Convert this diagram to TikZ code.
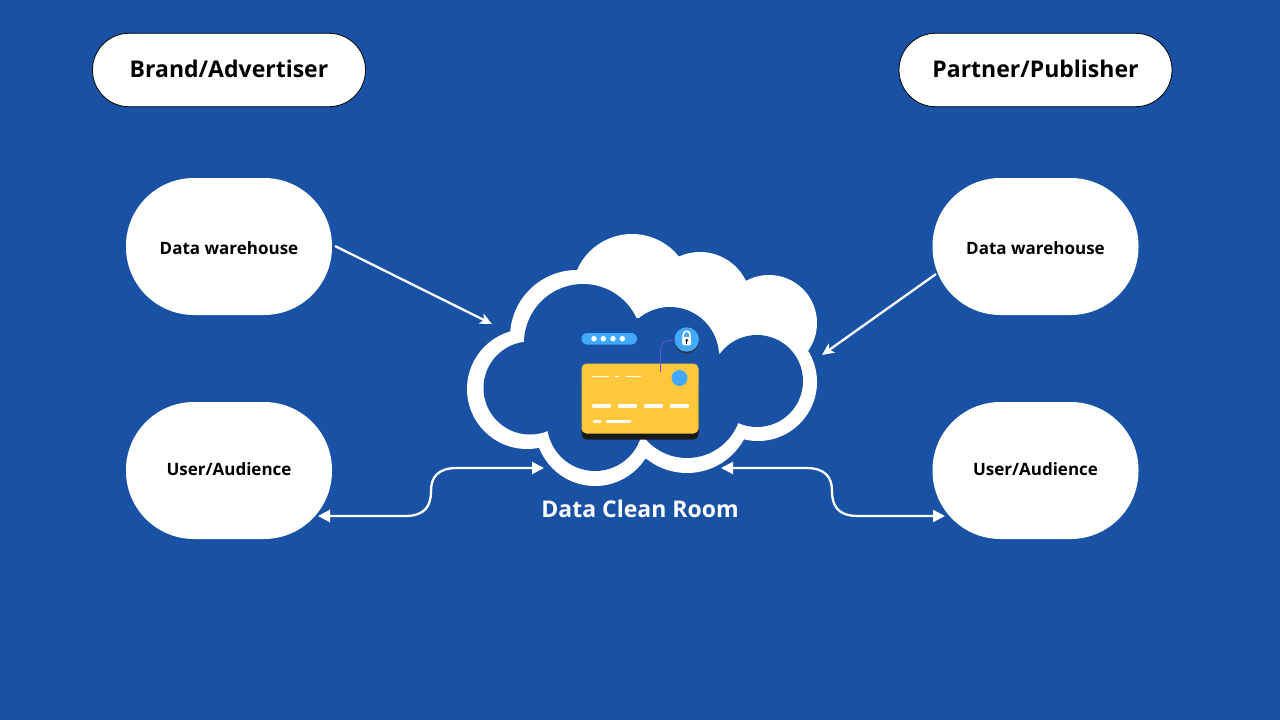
\documentclass[tikz,border=0pt]{standalone}
\usepackage{fontspec}
\setmainfont{Open Sans}
\usetikzlibrary{arrows.meta}
\definecolor{bgblue}{HTML}{1952A4}
\definecolor{cardyellow}{HTML}{FFC73C}
\definecolor{skyblue}{HTML}{42A9FF}
\definecolor{shadowdark}{HTML}{2F3640}
\definecolor{wirepurple}{HTML}{6A52C8}
\tikzset{headpill/.style={draw=black, fill=white, line width=0.8pt, rounded corners=36.5pt, minimum width=273pt, minimum height=73.4pt, text height=15.4pt, text depth=0pt, font=\fontsize{23}{28}\selectfont\bfseries},
%the four white blobs
blob/.style={fill=white, rounded corners=68pt, minimum width=206pt, minimum height=137pt, text height=#1, text depth=0pt, font=\fontsize{17}{20}\selectfont\bfseries},
flow/.style={draw=white, line width=2.3pt, -{Stealth[length=12pt,width=11pt,inset=3pt]}},
twoway/.style={draw=white, line width=2.3pt, {Triangle[length=12pt,width=12pt]}-{Triangle[length=12pt,width=12pt]}}}

\begin{document}
\begin{tikzpicture}[x=1pt, y=-1pt]

\useasboundingbox (0,0) rectangle (1280,720);
\fill[bgblue] (0,0) rectangle (1280,720);

\node[headpill] (brand) at (229,70) {Brand/Advertiser};
\node[headpill] (partner) at (1035.5,70) {Partner/Publisher};

\node[blob=16.5pt] (wareL) at (229,246.5) {Data warehouse};
\node[blob=16.5pt] (wareR) at (1035.5,246.5) {Data warehouse};
\node[blob=10pt] (userL) at (229,470.5) {User/Audience};
\node[blob=10pt] (userR) at (1035.5,470.5) {User/Audience};

% cloud, white lobes first
\fill[white] (577,270) -- (678,257) -- (744,282) -- (808,349) -- (743,437) -- (646,459) -- (540,448) -- (510,332) -- cycle;
\foreach \x/\y/\r in {632/294/60, 700/303/51, 769/323/48, 758/382/59, 687/408/65, 595/426/60, 527/389/60, 577/337/67}
    \fill[white] (\x,\y) circle (\r pt);

% then the hole
\fill[bgblue] (523,343) -- (638,318) -- (719,352) -- (737,423) -- (642,439) -- (548,431) -- cycle;
\foreach \x/\y/\r in {583/343/59, 670/356/49, 757/381/46, 687/403/55, 595/423/48, 530/388/46.5}
    \fill[bgblue] (\x,\y) circle (\r pt);

\node[text=white, font=\fontsize{23}{27}\selectfont\bfseries] (roomlabel) at (640,508.5) {Data Clean Room};

% card
\fill[black!90, rounded corners=5pt] (581.5,380) rectangle (698.5,439.5);
\fill[cardyellow, rounded corners=5pt] (581.5,363.5) rectangle (698.5,433.5);
\fill[skyblue] (679.5,378) circle (8pt);
\draw[white, line width=1.2pt] (592,376.7) -- (609,376.7) (615,376.7) -- (619,376.7) (626,376.7) -- (641,376.7);
\foreach \x in {592,618,644,670}
    \draw[white, line width=3.5pt, line cap=round] (\x+1.5,406) -- (\x+17.5,406);
\draw[white, line width=3pt, line cap=round] (594,421) -- (600,421) (607,421) -- (630,421);

% password pill
\fill[skyblue, rounded corners=5.7pt] (581.5,333) rectangle (637,344.5);
\foreach \x in {594,603.3,613,622.3}
    \fill[white] (\x,338.7) circle (2.7pt);

% lock
\draw[wirepurple, line width=0.8pt] (660.5,372) -- (660.5,350) .. controls (660.5,343) and (664,340.5) .. (670,340.5) -- (678,340);
\fill[shadowdark] (686.7,341.3) circle (12.2pt);
\fill[skyblue] (686.7,339.5) circle (12.2pt);
\draw[white, line width=1.5pt] (683.2,338) -- (683.2,335) .. controls (683.2,330) and (690.2,330) .. (690.2,335) -- (690.2,338);
\fill[white, rounded corners=2pt] (682.2,337) rectangle (691.2,345.3);
\fill[black] (686.7,340.2) circle (1.4pt);
\fill[black] (686.2,340.2) rectangle (687.2,343.5);

% ends of the arrows
\coordinate (wareLout) at (335,246);
\coordinate (cloudL) at (492,324);
\coordinate (wareRout) at (936,274);
\coordinate (cloudR) at (822,355);
\coordinate (userLend) at (318,516);
\coordinate (cloudBL) at (544,468);
\coordinate (cloudBR) at (721,468);
\coordinate (userRend) at (945,516);

\draw[flow] (wareLout) -- (cloudL);
\draw[flow] (wareRout) -- (cloudR);

\draw[twoway] (userLend) -- (405,516) .. controls (425,516) and (431,506) .. (431,491) .. controls (431,477) and (438,468) .. (457,468) -- (cloudBL);
\draw[twoway] (cloudBR) -- (806,468) .. controls (825,468) and (832,477) .. (832,491) .. controls (832,506) and (838,516) .. (858,516) -- (userRend);

\end{tikzpicture}
\end{document}
